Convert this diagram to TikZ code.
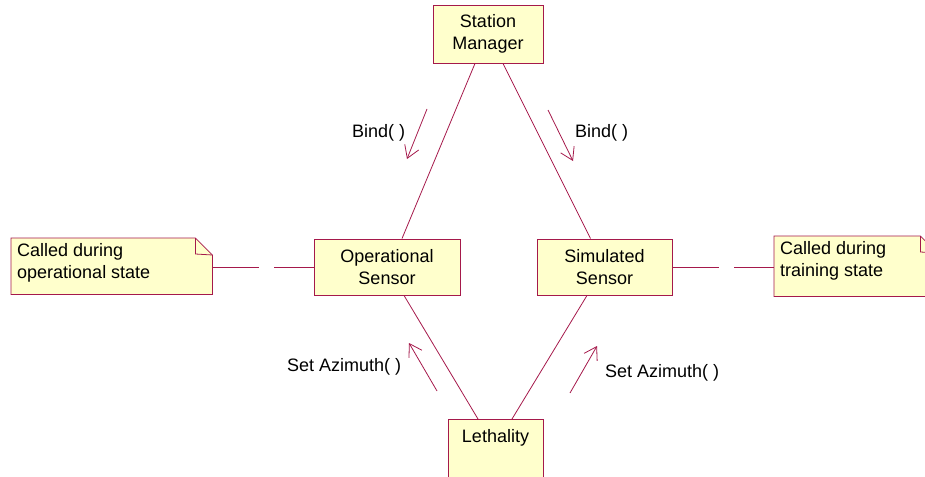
\documentclass[tikz,border=0pt]{standalone}
\usepackage{fontspec}
\setmainfont{Liberation Sans}
\usetikzlibrary{arrows.meta,backgrounds}
\definecolor{umlline}{RGB}{165,25,75}
\definecolor{umlfill}{RGB}{255,255,204}
\tikzset{
  box/.style={draw=umlline, fill=umlfill, line width=0.9pt, align=center, inner sep=2pt},
  notebox/.style={align=left, inner sep=0pt, anchor=north west},
  link/.style={draw=umlline, line width=0.8pt},
  msg/.style={draw=umlline, line width=0.8pt, -{Straight Barb[length=12pt,width=15pt,line width=0.8pt]}},
  lbl/.style={inner sep=0pt},
  anchorlink/.style={draw=umlline, line width=0.8pt, dash pattern=on 47pt off 15pt on 120pt},
}
\begin{document}
\begin{tikzpicture}[x=1pt,y=-1pt, font=\fontsize{18}{22}\selectfont]
\useasboundingbox (0,0) rectangle (925,476);
% class boxes
\node[box, minimum width=110pt, minimum height=58pt] (sm) at (488,34) {Station\\Manager};
\node[box, minimum width=146pt, minimum height=56pt] (ops) at (387,267) {Operational\\Sensor};
\node[box, minimum width=135pt, minimum height=56pt] (sims) at (604.5,267) {Simulated\\Sensor};
\node[box, anchor=north, minimum width=95pt, text height=20pt, text depth=42pt, inner sep=3pt] (leth) at (495.5,419) {Lethality};
% notes
\node[notebox, minimum width=201pt, minimum height=56pt] (n1) at (11,238) {};
\node[notebox] (n1t) at (17,243) {Called during\\operational state};
\node[notebox, minimum width=163pt, minimum height=60pt] (n2) at (774,236) {};
\node[notebox] (n2t) at (780,241) {Called during\\training state};
\begin{scope}[on background layer]
  \draw[link, fill=umlfill] (n1.north west) -- ([xshift=-17pt]n1.north east) -- ([yshift=-17pt]n1.north east) -- (n1.south east) -- (n1.south west) -- cycle;
  \draw[link] ([xshift=-17pt]n1.north east) -- ([xshift=-17pt,yshift=-16pt]n1.north east) -- ([yshift=-17pt]n1.north east);
  \draw[link, fill=umlfill] (n2.north west) -- ([xshift=-17pt]n2.north east) -- ([yshift=-17pt]n2.north east) -- (n2.south east) -- (n2.south west) -- cycle;
  \draw[link] ([xshift=-17pt]n2.north east) -- ([xshift=-17pt,yshift=-16pt]n2.north east) -- ([yshift=-17pt]n2.north east);
\end{scope}
% note anchors
\draw[anchorlink] (n1.east |- ops.west) -- (ops.west);
\draw[anchorlink] (sims.east) -- (sims.east -| n2.west);
% links
\draw[link] ([xshift=-13pt]sm.south) -- ([xshift=15pt]ops.north);
\draw[link] ([xshift=15pt]sm.south) -- ([xshift=-14pt]sims.north);
\draw[link] ([xshift=17pt]ops.south) -- ([xshift=-17.5pt]leth.north);
\draw[link] ([xshift=-17.5pt]sims.south) -- ([xshift=16.5pt]leth.north);
% messages
\coordinate (b1s) at (427,109); \coordinate (b1e) at (407,159);
\coordinate (b2s) at (548,110); \coordinate (b2e) at (573,161);
\coordinate (a1s) at (437,391); \coordinate (a1e) at (409,343);
\coordinate (a2s) at (570,393); \coordinate (a2e) at (597,346);
\draw[msg] (b1s) -- (b1e);
\draw[msg] (b2s) -- (b2e);
\draw[msg] (a1s) -- (a1e);
\draw[msg] (a2s) -- (a2e);
\node[lbl, anchor=west] (lb1) at (352,133) {Bind( )};
\node[lbl, anchor=west] (lb2) at (575,133) {Bind( )};
\node[lbl, anchor=west] (la1) at (287,367) {Set Azimuth( )};
\node[lbl, anchor=west] (la2) at (605,373) {Set Azimuth( )};
\end{tikzpicture}
\end{document}
